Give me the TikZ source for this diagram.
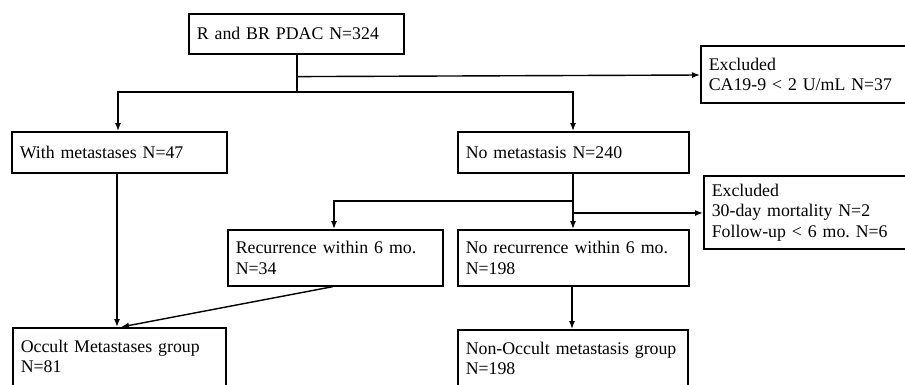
\documentclass[tikz,border=0pt]{standalone}
\usepackage{fontspec}
\setmainfont{Liberation Serif}
\usetikzlibrary{arrows.meta}

\tikzset{
  kasten/.style={draw, line width=1.6pt, anchor=north west, align=left,
    inner xsep=8pt, inner ysep=0pt, font=\fontsize{17.8}{20.5}\selectfont\frenchspacing},
  pfeil/.style={-{Latex[length=8pt,width=6pt]}, line width=1.4pt},
  linie/.style={line width=1.4pt}
}

\begin{document}
\begin{tikzpicture}[x=1pt, y=-1pt]

  % Rahmen
  \clip (0,0) rectangle (905,384);

  % Kaesten
  \node[kasten, text width=199pt, minimum height=40pt] (start) at (188,13) {R and BR PDAC N=324};
  \node[kasten, text width=200pt, minimum height=57pt] (excl1) at (700,45) {Excluded\\CA19-9 < 2 U/mL N=37};
  \node[kasten, text width=199pt, minimum height=41pt] (meta) at (11,131) {With metastases N=47};
  \node[kasten, text width=215pt, minimum height=41pt] (nometa) at (457,131) {No metastasis N=240};
  \node[kasten, text width=200pt, minimum height=73pt] (excl2) at (703,175) {Excluded\\30-day mortality N=2\\Follow-up < 6 mo. N=6};
  \node[kasten, text width=199pt, minimum height=56pt] (recur) at (227,229) {Recurrence within 6 mo.\\N=34};
  \node[kasten, text width=215pt, minimum height=56pt] (norecur) at (457,229) {No recurrence within 6 mo.\\N=198};
  \node[kasten, text width=197pt, minimum height=56pt, text depth=40pt, inner ysep=12pt] (occult) at (12,327) {Occult Metastases group\\N=81};
  \node[kasten, text width=214pt, minimum height=56pt, text depth=40pt, inner ysep=12pt] (nonocc) at (457,329) {Non-Occult metastasis group\\N=198};

  % Verzweigungen
  \coordinate (s1) at (297,92);
  \coordinate (s2) at (573,201);

  % Verbindungen oben
  \draw[linie] (start.south -| s1) -- (s1);
  \draw[pfeil] (start.south -| s1) ++(0,22) -- (excl1.west |- 0,75);
  \draw[pfeil] (s1) -| (meta.north -| 118,0);
  \draw[pfeil] (s1) -| (nometa.north -| s2);

  % Verbindungen Mitte
  \draw[linie] (nometa.south -| s2) -- (s2);
  \draw[pfeil] (s2) -| (recur.north -| 334,0);
  \draw[pfeil] (s2) -- (norecur.north -| s2);
  \draw[pfeil] (s2) ++(0,12) -- (excl2.west |- 0,213);

  % Verbindungen unten
  \draw[pfeil] (meta.south -| 117,0) -- (occult.north -| 117,0);
  \draw[pfeil] (recur.south -| 333,0) -- (occult.north -| 121,0);
  \draw[pfeil] (norecur.south -| 572,0) -- (nonocc.north -| 572,0);

\end{tikzpicture}
\end{document}
